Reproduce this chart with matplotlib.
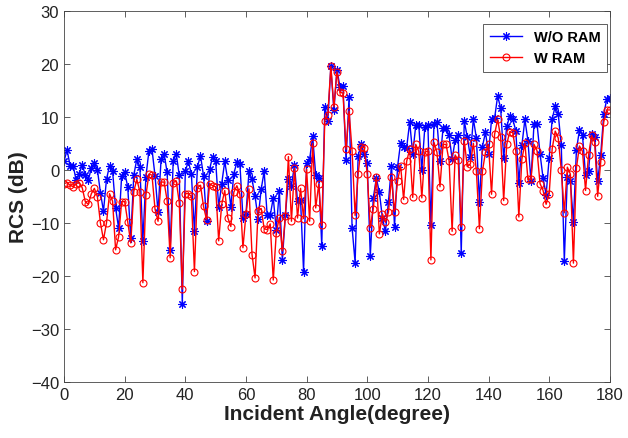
import numpy as np
import matplotlib
matplotlib.use('Agg')
import matplotlib.pyplot as plt

plt.rcParams['font.family'] = ['Liberation Sans', 'DejaVu Sans']

angles = np.arange(0, 181)

# RCS without RAM (dB)
rcs_wo_ram = [
    1.7, 3.7, 0.8, 0.8, -2, -0.8, 1, -1, -2, 0.4, 1.2, 0, -4.3, -7.8, -1.8,
    0.8, -0.2, -7.2, -11, -1.1, -0.5, -3.2, -12.9, -1, 2, 0.6, -13.4, -1.3, 3.6, 3.9, -1.1, -8, 2, 3, -0.5,
    -15.1, 1.7, 3, -1, -25.3, -0.2, 1.6, -0.8, -11.6, 0.6, 2.7, -1.1, -9.6, 0.1, 2.5, 1.7, -7, -2.6, 1.6,
    -2, -7, -0.7, 1.4, 1.1, -9, -8.3, -0.3, -1.8, -5, -9.2, -3.7, -0.3, -8.6, -8.6, -5.3, -11.3,
    -3.9, -17, -8.5, -1.8, -3, 0.9, -5.9, -5.6, -19.2, 1.2, 2, 6.3, -1, -1.5, -14.3, 11.9, 9.3, 19.5, 11.2,
    18.9, 15.7, 15.8, 1.8, 13.7, -10.9, -17.5, 2.7, 4.8, 3, 1.2, -16.2, -5.3, -1.6, -4.2, -9.1, -11.6, -6,
    0.8, -10.7, 0.6, 5.1, 4.3, 4.2, 9, 3, 8.4, 8.4, 0, 8.1, 8.4, -10.4, 8.6, 9, 1.7, 7.8,
    7.8, 6.5, 2.0, 5.6, 6.6, -15.7, 9.2, 6.2, 2.5, 9.6, 6.0, -6, 4.4, 7.1, 3, 9.5, 9.7, 13.9,
    11.7, 2.2, 8.2, 10.1, 9.5, 7.4, -2.4, 4.6, 9.5, 5.5, -2.1, 8.7, 8.7, 3, -1.6, -4.7, 2.2, 9.6,
    12, 10.5, 4.6, -17.2, -1.3, -2.2, -9.8, 3.8, 7.5, 6.5, -1, -0.2, 6.7, 6.2, -2.2, 2.8, 10.5, 13.3, 13.5,
]

# RCS with RAM (dB)
rcs_w_ram = [
    -2.6, -2.4, -2.9, -3.2, -2.6, -2.4, -3.4, -6, -6.5, -4.5, -3.5, -5.1, -10, -13.2, -10,
    -4.5, -5.9, -15.1, -12.6, -6, -6, -9.8, -13.8, -4.1, -1.8, -4.1, -21.3, -4.8, -0.8, -1, -7.4, -9.7, -2.3, -2.3, -5.8,
    -16.6, -2.4, -2.1, -6.2, -22.5, -4.5, -4.5, -5, -19.2, -3.4, -2.9, -6.9, -9.4, -2.6, -3, -3.2, -13.4, -6.5, -3.9,
    -9, -10.7, -4.2, -3, -4.6, -14.7, -8.4, -3.6, -16, -20.4, -7.7, -7.3, -11.1, -11.3, -10.2, -20.8, -11.9,
    -9, -15.3, -8.8, 2.5, -9.7, 0.3, -9.1, -3.5, -9.2, 0.1, -9.7, 5, -7.2, -2.7, -10.5, 9.3, 10.4, 19.5, 11.9,
    18.5, 14.6, 14.5, 3.9, 11.1, 3.6, -8.6, -0.8, 4.3, 4.2, -0.8, -10.9, -7.3, -1.4, -12.1, -8.3, -9.9, -8,
    -1.4, -7.9, -2.1, 0.8, -5.6, 1.6, 3.9, -5.2, 4.8, 3.5, -5.3, 3.3, 3.6, -17, 5.2, 3.3, -3.2, 4.8,
    4.8, 1.7, -11.6, 2.8, 1.8, -10.7, 5.5, 0.6, 1.1, 5.0, -0.2, -11.1, -0.2, 3.3, 4.8, -4.6, 6.7, 9.5,
    6.2, -5.8, 4.8, 7.2, 7, 3.5, -8.9, 2.0, 5, -1.8, -1.8, 4.8, 3.6, -2.6, -3.9, -6.5, -4.6, 4,
    7.3, 6, -0.1, -8.1, 0.5, -0.8, -17.6, 0.4, 4.5, 3.5, -3.9, 2.8, 6.5, 5.2, -5, 1.4, 9, 11.3, 11.3,
]

xticks = np.arange(0, 181, 20)
yticks = np.arange(-40, 31, 10)

fig = plt.figure(figsize=(6.28, 4.39), dpi=100)
ax = fig.add_axes([0.102, 0.128, 0.869, 0.845])

# MATLAB-style asterisk marker
ax.plot(angles, rcs_wo_ram, color='#0000ff', lw=1.0, marker=(8, 2, 0), ms=6,
        markeredgewidth=0.8, label='W/O RAM')
ax.plot(angles, rcs_w_ram, color='#ff0000', lw=1.0, marker='o', ms=5,
        markerfacecolor='none', markeredgewidth=0.8, label='W RAM')

ax.set_xlim(0, 180)
ax.set_ylim(-40, 30)
ax.set_xticks(xticks)
ax.set_yticks(yticks)
ax.tick_params(direction='in', top=True, right=True, labelsize=12, length=4,
               width=0.6, color='#444444', labelcolor='#222222')
for s in ax.spines.values():
    s.set_linewidth(0.6)
    s.set_color('#444444')

ax.set_xlabel('Incident Angle(degree)', fontsize=15, fontweight='bold', labelpad=2,
              color='#222222')
ax.set_ylabel('RCS (dB)', fontsize=15, fontweight='bold', labelpad=2, color='#222222')

leg = ax.legend(loc='upper right', bbox_to_anchor=(0.995, 0.965), borderaxespad=0,
                prop={'weight': 'bold', 'size': 10.5},
                fancybox=False, edgecolor='#444444', framealpha=1,
                handlelength=2.2, borderpad=0.45, labelspacing=0.45)
leg.get_frame().set_linewidth(0.6)

fig.savefig('out.png', dpi=100)
